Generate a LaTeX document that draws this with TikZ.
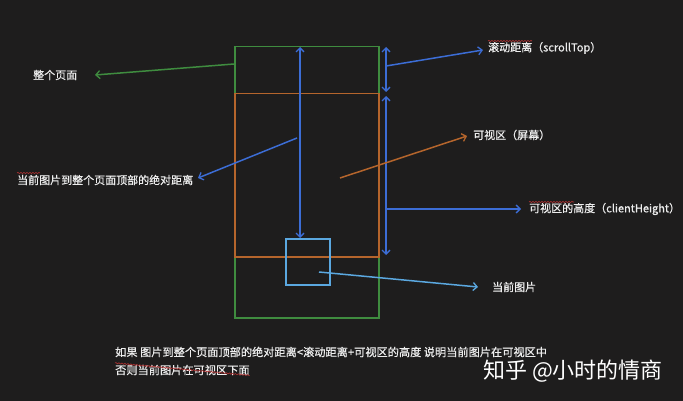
\documentclass[tikz,border=0pt]{standalone}
\usepackage{fontspec}
\setmainfont{Noto Sans CJK SC}
\newfontfamily\lblfont[FakeBold=0.6]{Noto Sans CJK SC}
\usetikzlibrary{arrows.meta,decorations.pathmorphing}
\definecolor{bg}{HTML}{1E1D1D}
\definecolor{pgreen}{HTML}{3F8C3F}
\definecolor{porange}{HTML}{B5652C}
\definecolor{pblue}{HTML}{3C6DD6}
\definecolor{plight}{HTML}{5BA8E0}
\definecolor{ptext}{HTML}{EDEDED}
\definecolor{squig}{HTML}{B03030}
\begin{document}
\begin{tikzpicture}[x=1pt,y=-1pt,
  box/.style={draw, line width=1.5pt, inner sep=0pt, anchor=north west},
  tipend/.style={-{Straight Barb[length=4pt,width=8pt,line width=1.3pt]}, line width=1.5pt},
  dbl/.style={{Straight Barb[length=4pt,width=8pt,line width=1.3pt]}-{Straight Barb[length=4pt,width=8pt,line width=1.3pt]}, line width=1.5pt, draw=pblue},
  lbl/.style={text=ptext, font=\lblfont\fontsize{11}{13}\selectfont, inner sep=0pt, anchor=west},
  note/.style={text=ptext, font=\lblfont\fontsize{11.2}{13}\selectfont, inner sep=0pt, anchor=west},
  squiggle/.style={draw=squig, line width=0.6pt, decorate, decoration={snake, amplitude=0.6pt, segment length=3pt}}
]
\fill[bg] (0,0) rectangle (683,401);
\useasboundingbox (0,0) rectangle (683,401);

% rectangles
\node (page) [box, draw=pgreen, minimum width=144pt, minimum height=271pt] at (234,46) {};
\node (view) [box, draw=porange, minimum width=144pt, minimum height=163pt] at (234,93) {};
\node (img) [box, draw=plight, minimum width=44pt, minimum height=46pt] at (285,238) {};

% labels
\node (lpage) [lbl] at (33,75) {整个页面};
\node (labs) [lbl] at (17,180) {当前图片到整个页面顶部的绝对距离};
\node (lscroll) [lbl] at (488,48) {滚动距离（scrollTop）};
\node (lview) [lbl] at (473,135) {可视区（屏幕）};
\node (lclient) [lbl] at (529,209) {可视区的高度（clientHeight）};
\node (limg) [lbl] at (492,287) {当前图片};
\node (line1) [note] at (115,352) {如果 图片到整个页面顶部的绝对距离<滚动距离+可视区的高度 说明当前图片在可视区中};
\node (line2) [note] at (115,370) {否则当前图片在可视区下面};
\node (mark) [text=white, font=\fontsize{22}{24}\selectfont, inner sep=0pt, anchor=west] at (483,371) {知乎 @小时的情商};

% coordinates
\coordinate (mtop) at (300,47);
\coordinate (mbot) at (300,238);
\coordinate (stop) at (386,47);
\coordinate (sbot) at (386,92);
\coordinate (ctop) at (386,96);
\coordinate (cbot) at (386,255);
\coordinate (gA) at (234,64);
\coordinate (gB) at (95,75);
\coordinate (aA) at (297,138);
\coordinate (aB) at (198,178);
\coordinate (sA) at (386,66);
\coordinate (sB) at (483,50);
\coordinate (oA) at (340,178);
\coordinate (oB) at (467,136);
\coordinate (cA) at (386,209);
\coordinate (cB) at (521,209);
\coordinate (iA) at (319,272);
\coordinate (iB) at (478,287);

% dimension arrows
\draw[dbl] (mtop) -- (mbot);
\draw[dbl] (stop) -- (sbot);
\draw[dbl] (ctop) -- (cbot);

% label arrows
\draw[tipend, draw=pgreen] (gA) -- (gB);
\draw[tipend, draw=pblue] (aA) -- (aB);
\draw[tipend, draw=pblue] (sA) -- (sB);
\draw[tipend, draw=porange] (oA) -- (oB);
\draw[tipend, draw=pblue] (cA) -- (cB);
\draw[tipend, draw=plight] (iA) -- (iB);

% spell-check underlines
\draw[squiggle] ([yshift=7pt]lscroll.west) -- ++(44,0);
\draw[squiggle] ([yshift=7pt]labs.west) -- ++(23,0);
\draw[squiggle] ([yshift=7pt]lclient.west) -- ++(45,0);
\draw[squiggle] ([yshift=7pt]line2.west) -- (line2.south east);
\end{tikzpicture}
\end{document}
